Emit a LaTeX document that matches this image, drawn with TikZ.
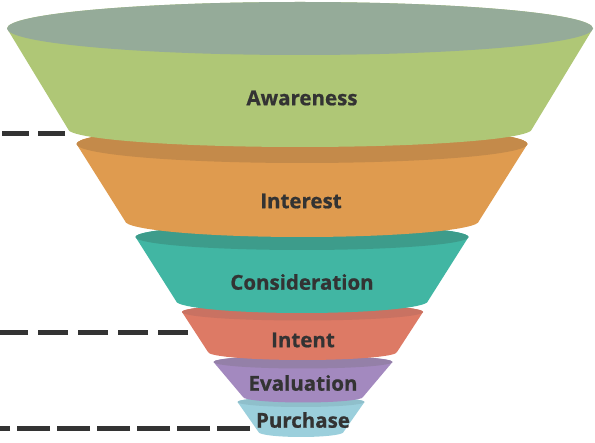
\documentclass[tikz,border=0pt]{standalone}
\usepackage{fontspec}
\setmainfont{Open Sans}[BoldFeatures={FakeBold=0.8}]
\definecolor{txt}{HTML}{333333}
\definecolor{awbody}{HTML}{AFC776}
\definecolor{awtop}{HTML}{95AB99}
\definecolor{inbody}{HTML}{DF9B4F}
\definecolor{intop}{HTML}{C48A4A}
\definecolor{cobody}{HTML}{41B6A3}
\definecolor{cotop}{HTML}{3D9C8B}
\definecolor{itbody}{HTML}{DD7A65}
\definecolor{ittop}{HTML}{C97262}
\definecolor{evbody}{HTML}{A389BF}
\definecolor{evtop}{HTML}{9480A8}
\definecolor{pubody}{HTML}{9BCFDC}
\definecolor{putop}{HTML}{8FBFCB}
% #1 cx, #2 yt, #3 rxt, #4 ryt, #5 yb, #6 rxb, #7 ryb, #8 body, #9 top
\newcommand{\funlayer}[9]{%
  \fill[#8] (#1-#3,#2) -- (#1-#6,#5)
    arc[start angle=180,end angle=0,x radius=#6,y radius=#7]
    -- (#1+#3,#2)
    arc[start angle=0,end angle=-180,x radius=#3,y radius=#4] -- cycle;
  \fill[#9] (#1,#2) ellipse[x radius=#3,y radius=#4];
}
\tikzset{
  lbl/.style={font=\fontsize{20.5}{24}\selectfont\bfseries, text=txt, inner sep=0pt},
  dashline/.style={draw=txt, line width=5pt}
}
\begin{document}
\begin{tikzpicture}[x=1pt,y=-1pt]
\useasboundingbox (0,0) rectangle (595,443);
% layers, bottom first
\funlayer{301}{402}{63.5}{5}{432}{42.5}{5}{pubody}{putop}
\funlayer{303}{362}{89.5}{6.5}{397}{60}{5.5}{evbody}{evtop}
\funlayer{302.5}{312}{120.5}{8.5}{352}{94.5}{8}{itbody}{ittop}
\funlayer{302}{237}{166.5}{13}{301}{126}{12}{cobody}{cotop}
\funlayer{302}{144}{225.5}{19}{221}{177}{16}{inbody}{intop}
\funlayer{300}{28.5}{293}{26.5}{129}{232}{18}{awbody}{awtop}
% labels
\node[lbl] (t1) at (302,98) {Awareness};
\node[lbl] (t2) at (301,201) {Interest};
\node[lbl] (t3) at (302,282) {Consideration};
\node[lbl] (t4) at (303,340) {Intent};
\node[lbl] (t5) at (303,383) {Evaluation};
\node[lbl] (t6) at (303,420) {Purchase};
% dashed leaders
\coordinate (d1a) at (65,134);  \coordinate (d1b) at (0,134);
\coordinate (d2a) at (188,333); \coordinate (d2b) at (0,333);
\coordinate (d3a) at (250,429); \coordinate (d3b) at (0,429);
\draw[dashline, dash pattern=on 27pt off 9.5pt] (d1a) -- (d1b);
\draw[dashline, dash pattern=on 30pt off 10pt] (d2a) -- (d2b);
\draw[dashline, dash pattern=on 33pt off 7pt] (d3a) -- (d3b);
\end{tikzpicture}
\end{document}
